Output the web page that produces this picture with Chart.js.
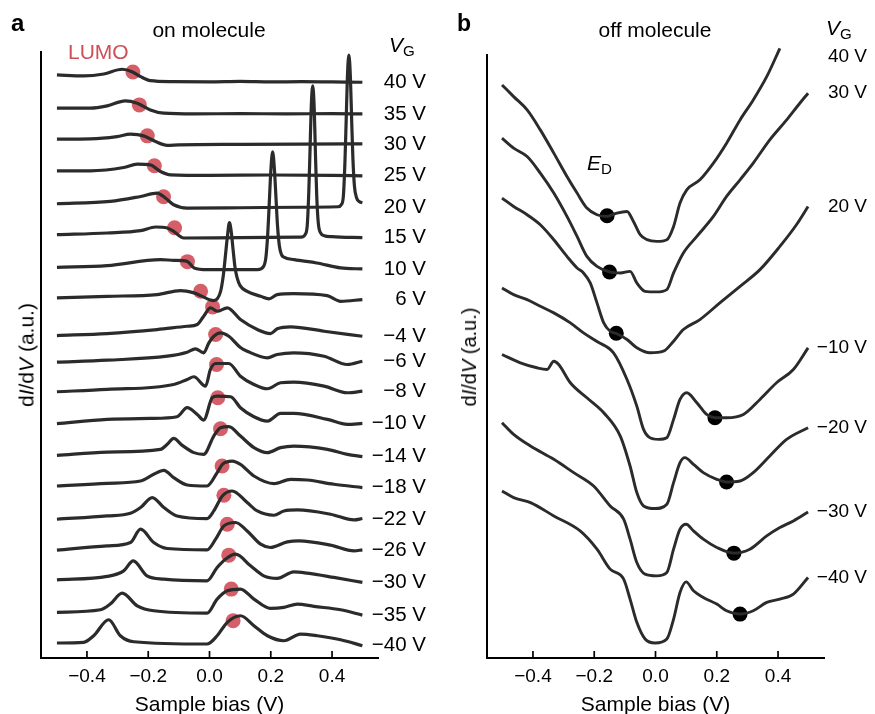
<!DOCTYPE html>
<html>
<head>
<meta charset="utf-8">
<script src="https://cdn.jsdelivr.net/npm/chart.js@4.4.1/dist/chart.umd.min.js"></script>
<style>
  html, body { margin: 0; padding: 0; background: #fff; overflow: hidden; }
  body { width: 875px; height: 714px; position: relative; font-family: 'Liberation Sans', Arial, Helvetica, sans-serif; color: #000; }
  canvas { position: absolute; top: 0; }
  #chartA { left: 0; }
  #chartB { left: 440px; }
  .txt { position: absolute; line-height: 1; white-space: nowrap; }
  .panel { font-weight: bold; }
  .ytitle { position: absolute; line-height: 1; white-space: nowrap; transform: translate(-50%, -50%) rotate(-90deg); }
  sub { font-size: 0.72em; vertical-align: -0.25em; line-height: 0; }
</style>
</head>
<body>
<canvas id="chartA" width="440" height="716"></canvas>
<canvas id="chartB" width="435" height="716"></canvas>

<div class="txt panel" style="left:11px; top:11px; font-size:24px;">a</div>
<div class="txt panel" style="left:457px; top:12px; font-size:23px;">b</div>
<div class="txt" style="left:209px; top:19px; font-size:21px; transform:translateX(-50%);">on molecule</div>
<div class="txt" style="left:655px; top:19px; font-size:21px; transform:translateX(-50%);">off molecule</div>
<div class="txt" style="left:68px; top:41px; font-size:21px; color:#cf4f58;">LUMO</div>
<div class="txt" style="left:389px; top:34px; font-size:21px;"><i>V</i><sub>G</sub></div>
<div class="txt" style="left:826px; top:17px; font-size:21px;"><i>V</i><sub>G</sub></div>
<div class="txt" style="left:587px; top:152px; font-size:21px;"><i>E</i><sub>D</sub></div>
<div class="ytitle" style="left:26px; top:355px; font-size:21px;">d<i>I</i>/d<i>V</i> (a.u.)</div>
<div class="ytitle" style="left:469px; top:357px; font-size:20px;">d<i>I</i>/d<i>V</i> (a.u.)</div>

<script>
// x axis ticks (sample bias, V)
const tickValues = [-0.4, -0.2, 0.0, 0.2, 0.4];
const tickLabels = ['\u22120.4', '\u22120.2', '0.0', '0.2', '0.4'];

// ---- panel a: on molecule ----
const gateA = ['40 V', '35 V', '30 V', '25 V', '20 V', '15 V', '10 V', '6 V', '\u22124 V', '\u22126 V', '\u22128 V',
  '\u221210 V', '\u221214 V', '\u221218 V', '\u221222 V', '\u221226 V', '\u221230 V', '\u221235 V', '\u221240 V'];
// vertical offset of each spectrum (a.u.)
const offsetsA = [577, 545, 514.5, 483.5, 451, 421, 389, 359, 322, 297, 267, 235, 202, 171, 139, 108, 76, 43, 13];

// spectra as [bias, dI/dV above offset]
const a40 = [[-0.498,7],[-0.411,6],[-0.345,8],[-0.285,12.7],[-0.253,10.3],[-0.225,5.3],[-0.193,1.3],[-0.12,0.3],[0,0],[0.1,0.5],[0.2,0],[0.3,0.3],[0.4,0],[0.499,-0.3]];
const a35 = [[-0.498,5.7],[-0.389,5.7],[-0.334,8],[-0.275,13],[-0.236,10.7],[-0.193,4],[-0.149,0.7],[-0.05,0],[0.1,0.3],[0.25,0],[0.4,0.3],[0.499,0]];
const a30 = [[-0.498,5.2],[-0.389,5.5],[-0.302,7.8],[-0.258,10.2],[-0.215,8.5],[-0.176,2.8],[-0.138,-1],[-0.1,-0.5],[0.1,0],[0.3,0.3],[0.499,0.5]];
const a25 = [[-0.498,4.5],[-0.389,4.5],[-0.280,7.8],[-0.236,11.2],[-0.193,10.5],[-0.160,3.8],[-0.127,0.5],[0,0],[0.2,0.3],[0.4,0],[0.499,-0.5]];
const a20 = [[-0.498,4],[-0.324,6.3],[-0.225,11.3],[-0.171,14.7],[-0.144,9.7],[-0.117,3],[-0.073,-0.3],[0.1,0],[0.3,0.5],[0.42,1],[0.430,3],[0.437,12],[0.442,45],[0.446,86],[0.450,130],[0.455,153],[0.460,130],[0.464,88],[0.468,50],[0.473,22],[0.480,10],[0.490,6],[0.499,5]];
const a15 = [[-0.498,3],[-0.334,4.7],[-0.225,7],[-0.176,10.7],[-0.138,9.7],[-0.117,6.3],[-0.084,-0.3],[0.1,0],[0.29,0.5],[0.305,1],[0.312,3],[0.319,12],[0.324,45],[0.328,86],[0.332,130],[0.337,152],[0.342,128],[0.346,82],[0.350,42],[0.355,15],[0.362,5],[0.375,2],[0.40,1],[0.499,0]];
const a10 = [[-0.498,2.3],[-0.334,4],[-0.160,10],[-0.116,9.3],[-0.073,8.3],[-0.050,1.7],[-0.008,0],[0.157,0],[0.176,3],[0.184,12],[0.190,35],[0.195,66],[0.200,98],[0.206,118],[0.212,100],[0.217,72],[0.222,44],[0.228,24],[0.235,15],[0.243,12.5],[0.277,10],[0.35,6.7],[0.428,1.7],[0.499,0.7]];
const a6 = [[-0.498,1.7],[-0.334,3.3],[-0.171,5],[-0.095,9],[-0.051,6.7],[-0.029,4],[0.003,-0.5],[0.014,-1],[0.036,8],[0.045,24],[0.052,44],[0.058,62],[0.065,77],[0.071,68],[0.077,50],[0.083,33],[0.090,22],[0.100,14],[0.123,8.3],[0.167,3.3],[0.194,0.7],[0.221,5],[0.275,6],[0.384,4],[0.428,-1.7],[0.499,0]];
const am4 = [[-0.498,1],[-0.334,3],[-0.171,7],[-0.073,10.3],[-0.040,12],[-0.019,20.3],[0.003,28.7],[0.025,25.3],[0.058,28.7],[0.101,17],[0.156,7],[0.199,3],[0.221,7.7],[0.265,9.7],[0.374,5.3],[0.499,0.3]];
const am6 = [[-0.498,-0.7],[-0.334,1.3],[-0.138,5.3],[-0.073,9.3],[-0.046,12.7],[-0.019,8.7],[-0.002,18.7],[0.014,25.3],[0.036,28.7],[0.063,25.3],[0.101,14],[0.123,10.3],[0.189,3.7],[0.221,7],[0.275,8.7],[0.374,5.3],[0.450,-3],[0.499,0.3]];
const am8 = [[-0.498,-0.3],[-0.334,2],[-0.117,7],[-0.073,12],[-0.051,14.7],[-0.013,5.3],[0.003,22],[0.020,28],[0.063,28],[0.101,15.3],[0.145,7],[0.189,2.7],[0.232,8.7],[0.275,9.3],[0.374,5.3],[0.450,-1.3],[0.499,0.3]];
const am10 = [[-0.498,-0.3],[-0.334,4],[-0.193,5],[-0.106,6.7],[-0.073,15.7],[-0.040,9],[-0.019,3.3],[0.009,25.7],[0.025,27.3],[0.069,26.7],[0.101,15.7],[0.145,6.7],[0.189,2.3],[0.232,10],[0.275,10],[0.385,4],[0.450,-1],[0.499,0]];
const am14 = [[-0.498,1],[-0.334,4.3],[-0.160,7],[-0.138,12],[-0.117,18],[-0.089,11],[-0.051,3.7],[-0.019,2],[0.014,20.3],[0.036,28.7],[0.063,29.7],[0.101,20.3],[0.145,8.7],[0.189,3.7],[0.232,8.7],[0.275,10.3],[0.385,7],[0.450,2],[0.499,-0.3]];
const am18 = [[-0.498,1.3],[-0.334,4],[-0.225,6.3],[-0.182,13],[-0.149,17],[-0.117,9.7],[-0.073,2.3],[-0.008,1.3],[0.025,14.7],[0.042,23],[0.074,26.3],[0.101,23],[0.145,11.3],[0.210,3.7],[0.265,8],[0.319,7.3],[0.406,3],[0.499,-0.3]];
const am22 = [[-0.498,0],[-0.334,3.3],[-0.258,6],[-0.225,11.7],[-0.187,21.7],[-0.149,11.7],[-0.106,3.3],[-0.008,0.7],[0.014,8.3],[0.042,23.3],[0.074,28.3],[0.123,16.7],[0.156,8.3],[0.210,4],[0.243,8.3],[0.287,9.3],[0.395,5],[0.472,-0.7],[0.499,0.7]];
const am26 = [[-0.498,0],[-0.334,4.3],[-0.258,7.7],[-0.225,21],[-0.182,7.7],[-0.138,1.7],[-0.008,0.3],[0.020,11],[0.047,24.3],[0.085,27.7],[0.123,19.3],[0.167,6],[0.199,2.7],[0.254,8.3],[0.292,9.3],[0.395,5],[0.472,-0.7],[0.499,0.3]];
const am30 = [[-0.498,2.3],[-0.334,5.7],[-0.280,11.3],[-0.249,21.3],[-0.204,6.3],[-0.149,3],[-0.008,1.3],[0.025,14.7],[0.052,23],[0.085,28],[0.134,16.3],[0.177,6.3],[0.221,3.7],[0.275,10.3],[0.319,9],[0.406,4.7],[0.499,-0.3]];
const am35 = [[-0.498,2.7],[-0.356,5.3],[-0.324,11],[-0.285,22],[-0.236,9.3],[-0.182,4.3],[-0.008,2],[0.025,16],[0.058,24.3],[0.101,26],[0.145,16],[0.199,6.7],[0.243,7.7],[0.287,11],[0.341,8.7],[0.428,5.3],[0.499,0]];
const am40 = [[-0.498,2],[-0.411,2.7],[-0.378,9.3],[-0.329,25.3],[-0.291,9.3],[-0.247,3.3],[-0.008,1],[0.025,9.3],[0.058,22.7],[0.101,29.3],[0.145,19.3],[0.189,9.3],[0.243,4.3],[0.297,11],[0.352,9.3],[0.428,5.3],[0.499,-0.7]];
const curvesA = [a40, a35, a30, a25, a20, a15, a10, a6, am4, am6, am8, am10, am14, am18, am22, am26, am30, am35, am40];

// LUMO markers: bias and height above offset
const lumoX = [-0.250, -0.229, -0.203, -0.180, -0.150, -0.114, -0.072, -0.029, 0.010, 0.020, 0.023, 0.027, 0.036, 0.041, 0.047, 0.058, 0.063, 0.071, 0.077];
const lumoY = [10, 9, 8.5, 9.5, 11, 10, 8, 8.3, 29.7, 27, 27, 25.7, 27.7, 21.3, 24, 26, 27, 26, 24.3];

// ---- panel b: off molecule ----
const gateB = ['40 V', '30 V', '20 V', '\u221210 V', '\u221220 V', '\u221230 V', '\u221240 V'];
const offsetsB = [417, 367, 306, 219, 150, 82, 15];

const b40 = [[-0.501,157],[-0.463,145.3],[-0.419,132],[-0.376,112],[-0.332,88.7],[-0.289,65.3],[-0.256,48.7],[-0.224,33.7],[-0.191,27],[-0.159,25.3],[-0.126,28.7],[-0.093,30.3],[-0.072,20.3],[-0.050,7],[-0.028,2],[0.004,0.3],[0.037,2],[0.059,15.3],[0.080,38.7],[0.102,52],[0.145,62],[0.189,78.7],[0.232,98.7],[0.276,122],[0.319,142],[0.363,165.3],[0.406,193.7]];
const b30 = [[-0.501,153.7],[-0.463,143.7],[-0.419,135.3],[-0.376,118.7],[-0.332,98.7],[-0.289,75.3],[-0.256,55.3],[-0.224,35.3],[-0.191,25.3],[-0.150,19.7],[-0.115,18.7],[-0.083,20.3],[-0.061,8.7],[-0.034,0.3],[0.004,-0.3],[0.037,2],[0.059,18.7],[0.091,38.7],[0.135,55.3],[0.189,75.3],[0.232,95.3],[0.276,112],[0.319,128.7],[0.373,152],[0.428,172],[0.471,188.7],[0.498,198.7]];
const b20 = [[-0.501,154.7],[-0.463,146.3],[-0.419,138],[-0.376,128],[-0.332,113],[-0.289,96.3],[-0.256,84.7],[-0.235,79.7],[-0.213,69.7],[-0.191,49.7],[-0.169,29.7],[-0.148,21.3],[-0.128,19],[-0.093,13],[-0.061,4.7],[-0.018,-0.3],[0.026,1.3],[0.059,11.3],[0.091,23],[0.145,33],[0.210,49.7],[0.276,66.3],[0.341,83],[0.406,106.3],[0.460,128],[0.498,146.3]];
const bm10 = [[-0.501,151.7],[-0.463,145],[-0.419,140],[-0.376,133.3],[-0.332,126.7],[-0.278,116.7],[-0.235,106.7],[-0.191,98],[-0.137,86.7],[-0.093,60],[-0.061,33.3],[-0.039,10],[-0.020,2],[0.010,0],[0.037,1.7],[0.059,20],[0.080,40],[0.102,46.7],[0.135,36.7],[0.167,25],[0.194,21.7],[0.232,21.7],[0.287,25],[0.341,40],[0.395,56.7],[0.450,70],[0.498,91.7]];
const bm20 = [[-0.501,154],[-0.441,145.7],[-0.387,140.7],[-0.354,139],[-0.332,147.3],[-0.316,144],[-0.278,125.7],[-0.224,110.7],[-0.169,95.7],[-0.115,72.3],[-0.083,42.3],[-0.061,15.7],[-0.039,2.3],[-0.001,-0.3],[0.037,4],[0.059,25.7],[0.080,45.7],[0.096,50.7],[0.124,44],[0.156,35.7],[0.200,29],[0.232,26.3],[0.276,27.3],[0.319,35.7],[0.373,52.3],[0.428,69],[0.498,80.7]];
const bm30 = [[-0.501,153.7],[-0.463,142],[-0.408,130.3],[-0.332,117],[-0.267,103.7],[-0.202,90.3],[-0.148,70.3],[-0.104,57],[-0.083,37],[-0.061,13.7],[-0.034,2],[0.004,0.3],[0.037,3.7],[0.059,27],[0.080,47],[0.100,52],[0.124,45.3],[0.156,37],[0.200,28.7],[0.256,23],[0.308,27],[0.363,40.3],[0.406,48.7],[0.450,55.3],[0.498,64.3]];
const bm40 = [[-0.501,152.3],[-0.463,145.7],[-0.408,140.7],[-0.332,127.3],[-0.246,112.3],[-0.191,94],[-0.148,74],[-0.104,64],[-0.083,44],[-0.061,20.7],[-0.034,4],[-0.001,0],[0.037,4],[0.059,24],[0.080,50.7],[0.100,61.3],[0.124,52.3],[0.156,45.7],[0.200,39],[0.232,32.3],[0.276,29],[0.319,32.3],[0.363,40.7],[0.406,44],[0.450,49],[0.498,65.7]];
const curvesB = [b40, b30, b20, bm10, bm20, bm30, bm40];

// Dirac point markers
const edX = [-0.158, -0.150, -0.128, 0.194, 0.232, 0.256, 0.276];
const edY = [26, 19.7, 19.3, 21.7, 26.3, 23, 29];

Chart.defaults.font.family = "'Liberation Sans', Arial, Helvetica, sans-serif";
Chart.defaults.color = '#000';

const inwardTicks = {
    id: 'inwardTicks',
    afterDraw(chart) {
        const xs = chart.scales.x;
        const ctx = chart.ctx;
        const b = chart.chartArea.bottom;
        ctx.save();
        ctx.strokeStyle = '#000';
        ctx.lineWidth = 1.7;
        xs.ticks.forEach((t, i) => {
            const px = xs.getPixelForTick(i);
            ctx.beginPath();
            ctx.moveTo(px, b);
            ctx.lineTo(px, b - 7);
            ctx.stroke();
        });
        ctx.restore();
    }
};

const curveLabels = {
    id: 'curveLabels',
    afterDatasetsDraw(chart, args, opts) {
        const ys = chart.scales.y;
        const ctx = chart.ctx;
        ctx.save();
        ctx.font = opts.font;
        ctx.fillStyle = '#000';
        ctx.textAlign = 'right';
        ctx.textBaseline = 'middle';
        opts.labels.forEach((txt, i) => {
            const y = Math.max(ys.getPixelForValue(opts.values[i]), chart.chartArea.top + 2);
            ctx.fillText(txt, chart.chartArea.right + opts.dx, y);
        });
        ctx.restore();
    }
};

function makeChart(id, cfg) {
    const datasets = cfg.curves.map((c, i) => ({
        data: c.map(p => ({ x: p[0], y: cfg.offsets[i] + p[1] })),
        borderColor: '#2b2b2b',
        borderWidth: cfg.lineWidth,
        pointRadius: 0,
        cubicInterpolationMode: 'monotone',
        clip: false,
        order: 0
    }));
    datasets.push({
        data: cfg.dotX.map((x, i) => ({ x: x, y: cfg.offsets[i] + cfg.dotY[i] })),
        showLine: false,
        pointRadius: 7.5,
        pointBackgroundColor: cfg.dotColor,
        pointBorderWidth: 0,
        clip: false,
        order: 1
    });

    return new Chart(document.getElementById(id), {
        type: 'line',
        data: { datasets: datasets },
        options: {
            responsive: false,
            animation: false,
            events: [],
            layout: { padding: cfg.padding },
            plugins: {
                legend: { display: false },
                tooltip: { enabled: false },
                curveLabels: cfg.labels
            },
            scales: {
                x: {
                    type: 'linear',
                    min: -0.55,
                    max: 0.55,
                    afterBuildTicks: s => { s.ticks = tickValues.map(v => ({ value: v })); },
                    grid: { display: false, drawTicks: false },
                    border: { display: true, color: '#000', width: 2 },
                    ticks: {
                        padding: 9,
                        maxRotation: 0,
                        font: { size: 19, lineHeight: 1 },
                        callback: (v, i) => tickLabels[i]
                    },
                    title: {
                        display: true,
                        text: 'Sample bias (V)',
                        font: { size: 21, lineHeight: 1 },
                        padding: { top: 0, bottom: 0 }
                    }
                },
                y: {
                    type: 'linear',
                    min: 0,
                    max: cfg.yMax,
                    grid: { display: false, drawTicks: false },
                    border: { display: true, color: '#000', width: 2 },
                    ticks: { display: false }
                }
            }
        },
        plugins: [inwardTicks, curveLabels]
    });
}

makeChart('chartA', {
    curves: curvesA,
    offsets: offsetsA,
    dotX: lumoX,
    dotY: lumoY,
    dotColor: 'rgba(208, 78, 88, 0.9)',
    lineWidth: 3.2,
    yMax: 607,
    padding: { left: 41, right: 62, top: 52, bottom: 0 },
    labels: { labels: gateA, values: offsetsA, dx: 48, font: "20.5px 'Liberation Sans', Arial, sans-serif" }
});

makeChart('chartB', {
    curves: curvesB,
    offsets: offsetsB,
    dotX: edX,
    dotY: edY,
    dotColor: '#000',
    lineWidth: 2.9,
    yMax: 604,
    padding: { left: 47, right: 51, top: 55, bottom: 0 },
    labels: {
        labels: gateB,
        values: curvesB.map((c, i) => offsetsB[i] + c[c.length - 1][1]),
        dx: 43,
        font: "19px 'Liberation Sans', Arial, sans-serif"
    }
});
</script>
</body>
</html>
